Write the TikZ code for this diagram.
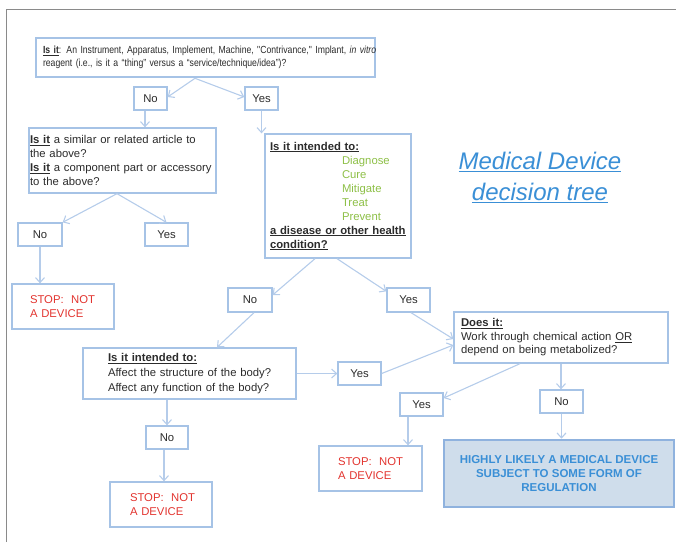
\documentclass[tikz,border=0pt]{standalone}
\usepackage{fontspec}
\setmainfont{Liberation Sans}
\newfontfamily\narrowsans[FakeStretch=0.84,WordSpace=0.8]{Liberation Sans}
\usetikzlibrary{arrows.meta,calc}

\definecolor{boxc}{HTML}{A6C3E6}
\definecolor{arrc}{HTML}{B5CCEA}
\definecolor{txt}{HTML}{2B2B2B}
\definecolor{stopred}{HTML}{E2332E}
\definecolor{leafgreen}{HTML}{8DBF46}
\definecolor{titleblue}{HTML}{3A8FD6}
\definecolor{hlfill}{HTML}{CFDDEB}
\definecolor{hlborder}{HTML}{8FB2DE}
\definecolor{framegray}{HTML}{8A8A8A}

\newcommand\isit{\textbf{\underline{Is it}}}

\begin{document}
\begin{tikzpicture}[x=1pt,y=-1pt,
  every node/.style={font=\fontsize{11.3}{14}\selectfont, text=txt},
  box/.style={draw=boxc, line width=1.3pt, rectangle, inner ysep=0pt},
  ans/.style={box, minimum width=43pt, minimum height=23pt, inner xsep=0pt},
  qbox/.style={box, align=left},
  stopbox/.style={qbox, text=stopred, minimum height=45pt},
  arr/.style={draw=arrc, line width=1.1pt, -{Straight Barb[length=5pt,width=9pt]}}]

\useasboundingbox (0,0) rectangle (676,542);

% page frame
\draw[framegray, line width=1.4pt] (6.5,542) -- (6.5,9.5) -- (676,9.5);

% question boxes
\node[qbox, line width=2.6pt, text width=325pt, inner xsep=7pt, minimum height=39pt,
      font=\narrowsans\fontsize{10.3}{12.7}\selectfont] (top) at (205.5,57.5)
  {\mbox{\isit: An Instrument, Apparatus, Implement, Machine, "Contrivance," Implant, \textit{in vitro}}\\
   \mbox{reagent (i.e., is it a “thing” versus a “service/technique/idea”)?}};

\node[ans, minimum width=33pt] (no1) at (150.5,98.5) {No};
\node[ans, minimum width=33pt] (yes1) at (261.5,98.5) {Yes};

\node[qbox, text width=185pt, inner xsep=1pt, minimum height=65pt] (sim) at (122.5,160.5)
  {\mbox{\isit{} a similar or related article to}\\
   the above?\\
   \mbox{\isit{} a component part or accessory}\\
   to the above?};

\node[ans, minimum width=44pt] (no2) at (40,234.5) {No};
\node[ans] (yes2) at (166.5,234.5) {Yes};

\node[stopbox, text width=66pt, inner xsep=18pt] (stop1) at (63,306.5)
  {\mbox{STOP:\ \ NOT}\\A DEVICE};

\node[qbox, text width=136pt, inner xsep=5pt, minimum height=124pt] (intend) at (338,196)
  {\textbf{\underline{Is it intended to:}}\\
   \hspace*{72pt}\textcolor{leafgreen}{Diagnose}\\
   \hspace*{72pt}\textcolor{leafgreen}{Cure}\\
   \hspace*{72pt}\textcolor{leafgreen}{Mitigate}\\
   \hspace*{72pt}\textcolor{leafgreen}{Treat}\\
   \hspace*{72pt}\textcolor{leafgreen}{Prevent}\\
   \mbox{\textbf{\underline{a disease or other health}}}\\
   \textbf{\underline{condition?}}};

\node[ans, minimum width=44pt, minimum height=24pt] (no3) at (250,300) {No};
\node[ans, minimum height=24pt] (yes3) at (408.5,300) {Yes};

\node[qbox, text width=163pt, inner xsep=25pt, minimum height=51pt,
      font=\fontsize{11.3}{15}\selectfont] (affect) at (189.5,373.5)
  {\textbf{\underline{Is it intended to:}}\\
   \mbox{Affect the structure of the body?}\\
   \mbox{Affect any function of the body?}};

\node[ans] (yes4) at (359.5,373.5) {Yes};
\node[ans, minimum width=42pt] (no4) at (167,437.5) {No};

\node[stopbox, text width=62pt, inner xsep=20pt] (stop2) at (161,504.5)
  {\mbox{STOP:\ \ NOT}\\A DEVICE};

\node[qbox, text width=200pt, inner xsep=7pt, minimum height=51pt,
      font=\fontsize{11.3}{13.5}\selectfont] (does) at (561,337.5)
  {\textbf{\underline{Does it:}}\\
   \mbox{Work through chemical action \underline{OR}}\\
   depend on being metabolized?};

\node[ans] (yes5) at (421.5,404.5) {Yes};
\node[ans] (no5) at (561.5,401.5) {No};

\node[stopbox, text width=65pt, inner xsep=19pt] (stop3) at (370.5,468.5)
  {\mbox{STOP:\ \ NOT}\\A DEVICE};

\node[rectangle, draw=hlborder, fill=hlfill, line width=2.6pt, minimum width=230pt,
      minimum height=67pt, align=center, text=titleblue,
      font=\fontsize{11.5}{14}\selectfont\bfseries] (highly) at (559,473.5)
  {HIGHLY LIKELY A MEDICAL DEVICE\\SUBJECT TO SOME FORM OF\\REGULATION};

% title
\node[align=center, text=titleblue, font=\fontsize{24}{31}\selectfont\itshape] (title) at (540,177)
  {\underline{Medical Device}\\\underline{decision tree}};

% connectors
\draw[arr] ($(top.south)+(-10.5,0)$) -- ($(no1.east)+(0,-1.5)$);
\draw[arr] ($(top.south)+(-10.5,0)$) -- ($(yes1.west)+(0,-1.5)$);
\draw[arr] ($(no1.south)+(-5.5,0)$) -- ($(no1.south |- sim.north)+(-5.5,0)$);
\draw[arr] (yes1.south) -- (yes1.south |- intend.north);
\draw[arr] ($(sim.south)+(-5.5,0)$) -- (no2.north east);
\draw[arr] ($(sim.south)+(-5.5,0)$) -- (yes2.north);
\draw[arr] (no2.south) -- (no2.south |- stop1.north);
\draw[arr] ($(intend.south)+(-23,0)$) -- ($(no3.east)+(0,-5)$);
\draw[arr] ($(intend.south)+(-1,0)$) -- ($(yes3.north west)+(0,4)$);
\draw[arr] ($(no3.south)+(4,0)$) -- ($(affect.north)+(27.5,0)$);
\draw[arr] ($(yes3.south)+(2.5,0)$) -- ($(does.west)+(0,1.5)$);
\draw[arr] (affect.east) -- (yes4.west);
\draw[arr] (yes4.east) -- ($(does.west)+(0,7.5)$);
\draw[arr] (affect.south -| no4.north) -- (no4.north);
\draw[arr] ($(no4.south)+(-3,0)$) -- ($(no4.south |- stop2.north)+(-3,0)$);
\draw[arr] ($(does.south)+(-41,0)$) -- ($(yes5.east)+(0,-6.5)$);
\draw[arr] (does.south) -- (does.south |- no5.north);
\draw[arr] ($(yes5.south)+(-13.5,0)$) -- ($(yes5.south |- stop3.north)+(-13.5,0)$);
\draw[arr] (no5.south) -- (no5.south |- highly.north);

\end{tikzpicture}
\end{document}
